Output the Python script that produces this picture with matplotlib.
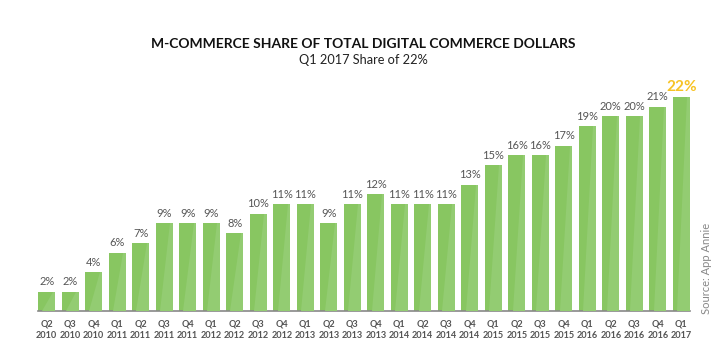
import matplotlib.pyplot as plt
from matplotlib.patches import Polygon

quarters = ['Q2', 'Q3', 'Q4', 'Q1', 'Q2', 'Q3', 'Q4', 'Q1', 'Q2', 'Q3', 'Q4',
            'Q1', 'Q2', 'Q3', 'Q4', 'Q1', 'Q2', 'Q3', 'Q4', 'Q1', 'Q2', 'Q3',
            'Q4', 'Q1', 'Q2', 'Q3', 'Q4', 'Q1']
years = ['2010', '2010', '2010', '2011', '2011', '2011', '2011', '2012', '2012',
         '2012', '2012', '2013', '2013', '2013', '2013', '2014', '2014', '2014',
         '2014', '2015', '2015', '2015', '2015', '2016', '2016', '2016', '2016',
         '2017']
share = [2, 2, 4, 6, 7, 9, 9, 9, 8, 10, 11, 11, 9, 11, 12, 11, 11, 11, 13, 15,
         16, 16, 17, 19, 20, 20, 21, 22]

plt.rcParams['font.family'] = ['Lato', 'DejaVu Sans']

fig = plt.figure(figsize=(7.27, 3.62), dpi=100)
ax = fig.add_axes([38 / 727, 51 / 362, 652 / 727, 214 / 362])

x = list(range(len(share)))
w = 0.72
bars = ax.bar(x, share, width=w, color='#88c661', zorder=2)

# lighter right-hand facet on each bar
for b in bars:
    xl, h = b.get_x(), b.get_height()
    poly = Polygon([(xl + w * 0.85, h), (xl + w, h), (xl + w, 0), (xl + w * 0.25, 0)],
                   closed=True, facecolor='#93cc72', edgecolor='none', zorder=3)
    ax.add_patch(poly)

for i, v in enumerate(share):
    if i == len(share) - 1:
        ax.text(i, v + 0.35, f'{v}%', ha='center', va='bottom', fontsize=11,
                fontweight='bold', color='#f7c325')
    else:
        ax.text(i, v + 0.45, f'{v}%', ha='center', va='bottom', fontsize=8,
                color='#555555')

ax.set_xlim(-0.37, len(share) - 0.63)
ax.set_ylim(0, 22)
ax.set_xticks(x)
ax.set_xticklabels([f'{q}\n{y}' for q, y in zip(quarters, years)],
                   fontsize=6.6, color='#555555', fontweight='bold', linespacing=1.35)
ax.tick_params(axis='x', length=0, pad=6)
ax.set_yticks([])
for s in ['top', 'right', 'left']:
    ax.spines[s].set_visible(False)
ax.spines['bottom'].set_color('#888888')
ax.spines['bottom'].set_linewidth(1.2)

fig.text(0.5, 1 - 44 / 362, 'M-COMMERCE SHARE OF TOTAL DIGITAL COMMERCE DOLLARS',
         ha='center', va='center', fontsize=10, fontweight='bold', color='#111111')
fig.text(0.5, 1 - 60 / 362, 'Q1 2017 Share of 22%', ha='center', va='center',
         fontsize=9.2, color='#222222')
fig.text(706 / 727, 1 - 268 / 362, 'Source: App Annie', rotation=90, ha='center',
         va='center', fontsize=8, color='#888888')

fig.savefig('out.png', dpi=100)
